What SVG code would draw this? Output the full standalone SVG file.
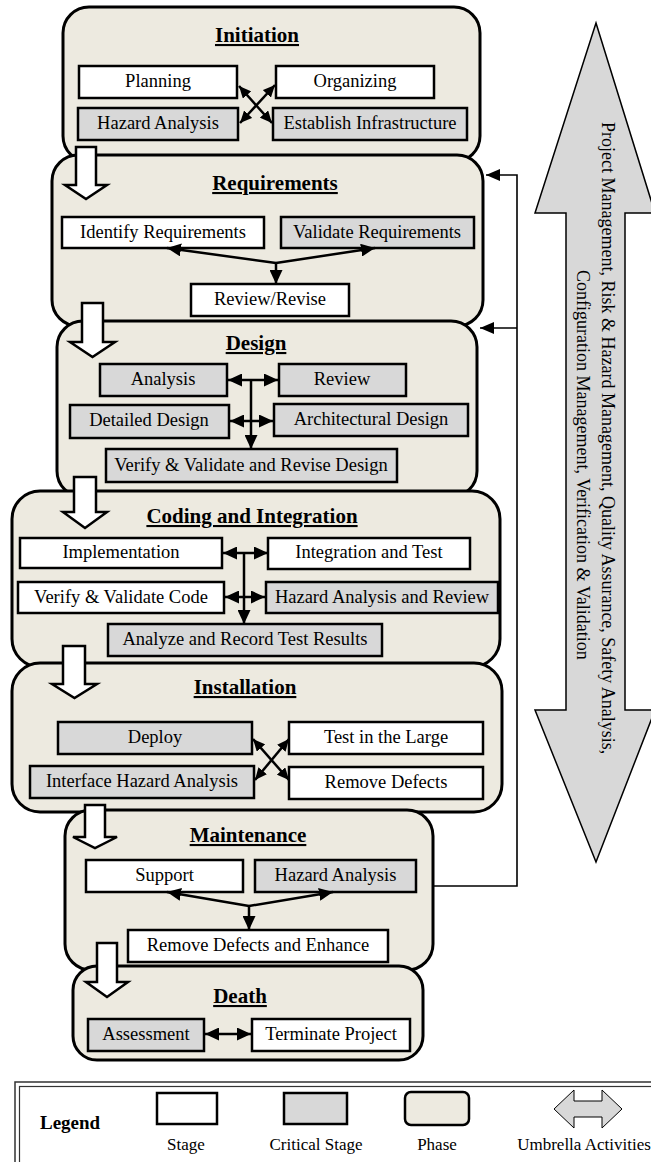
<svg xmlns="http://www.w3.org/2000/svg" width="651" height="1162" viewBox="0 0 651 1162">
<style>
.phase{fill:#EDEAE0;stroke:#000;stroke-width:3}
.stage{fill:#fff;stroke:#000;stroke-width:2.5}
.crit{fill:#D8D8D8;stroke:#000;stroke-width:2.5}
.t{font-family:"Liberation Serif","Times New Roman",serif;font-size:18.5px;text-anchor:middle;fill:#000}
.ttl{font-family:"Liberation Serif","Times New Roman",serif;font-size:21px;font-weight:bold;text-decoration:underline;text-anchor:middle;fill:#000}
.blk{fill:#fff;stroke:#000;stroke-width:2.5;stroke-linejoin:miter}
.con{fill:none;stroke:#000;stroke-width:2.5}
.fb{fill:none;stroke:#000;stroke-width:1.6}
.lg{font-family:"Liberation Serif","Times New Roman",serif;font-size:17px;text-anchor:middle;fill:#000}
.um{font-family:"Liberation Serif","Times New Roman",serif;font-size:18px;fill:#000}
</style>
<defs>
<marker id="ah" viewBox="0 0 14 13" refX="14" refY="6.5" markerWidth="14" markerHeight="13" markerUnits="userSpaceOnUse" orient="auto-start-reverse"><path d="M0,0 L14,6.5 L0,13 z" fill="#000"/></marker>
<marker id="ahs" viewBox="0 0 12 11" refX="12" refY="5.5" markerWidth="12" markerHeight="11" markerUnits="userSpaceOnUse" orient="auto-start-reverse"><path d="M0,0 L12,5.5 L0,11 z" fill="#000"/></marker>
<marker id="fh" viewBox="0 0 14 12" refX="14" refY="6" markerWidth="14" markerHeight="12" markerUnits="userSpaceOnUse" orient="auto"><path d="M0,0 L14,6 L0,12 z" fill="#000"/></marker>
</defs>
<rect width="651" height="1162" fill="#fff"/>

<!-- Umbrella activities arrow -->
<g id="umbrella">
<polygon points="596,23 655,213 625,213 625,710 655,710 596,862 535,710 566,710 566,213 535,213" fill="#D8D8D8" stroke="#000" stroke-width="1.5"/>
<text class="um" transform="translate(602,122) rotate(90)">Project Management, Risk &amp; Hazard Management, Quality Assurance, Safety Analysis,</text>
<text class="um" transform="translate(577,270) rotate(90)">Configuration Management, Verification &amp; Validation</text>
</g>

<!-- Initiation -->
<g id="phase-initiation">
<rect class="phase" x="63" y="7" width="417" height="155" rx="26"/>
<text class="ttl" x="257" y="42">Initiation</text>
</g>
<g id="planning"><rect class="stage" x="79" y="66" width="158" height="32"/><text class="t" x="158" y="87">Planning</text></g>
<g id="organizing"><rect class="stage" x="276" y="66" width="158" height="32"/><text class="t" x="355" y="87">Organizing</text></g>
<g id="hazard-analysis-1"><rect class="crit" x="78" y="108" width="160" height="32"/><text class="t" x="158" y="129">Hazard Analysis</text></g>
<g id="establish-infrastructure"><rect class="crit" x="273" y="108" width="194" height="32"/><text class="t" x="370" y="129">Establish Infrastructure</text></g>

<!-- Requirements -->
<g id="phase-requirements">
<rect class="phase" x="52" y="155" width="431" height="171" rx="26"/>
<text class="ttl" x="275" y="190">Requirements</text>
</g>
<g id="identify-requirements"><rect class="stage" x="62" y="217" width="202" height="31"/><text class="t" x="163" y="238">Identify Requirements</text></g>
<g id="validate-requirements"><rect class="crit" x="281" y="217" width="193" height="31"/><text class="t" x="377" y="238">Validate Requirements</text></g>
<g id="review-revise"><rect class="stage" x="191" y="284" width="158" height="32"/><text class="t" x="270" y="305">Review/Revise</text></g>

<!-- Design -->
<g id="phase-design">
<rect class="phase" x="57" y="321" width="420" height="176" rx="26"/>
<text class="ttl" x="256" y="350">Design</text>
</g>
<g id="analysis"><rect class="crit" x="100" y="364" width="127" height="32"/><text class="t" x="163" y="385">Analysis</text></g>
<g id="review"><rect class="crit" x="279" y="364" width="127" height="32"/><text class="t" x="342" y="385">Review</text></g>
<g id="detailed-design"><rect class="crit" x="70" y="405" width="159" height="33"/><text class="t" x="149" y="426">Detailed Design</text></g>
<g id="architectural-design"><rect class="crit" x="274" y="404" width="194" height="32"/><text class="t" x="371" y="425">Architectural Design</text></g>
<g id="verify-design"><rect class="crit" x="106" y="449" width="291" height="33"/><text class="t" x="251" y="471">Verify &amp; Validate and Revise Design</text></g>

<!-- Coding and Integration -->
<g id="phase-coding">
<rect class="phase" x="12" y="491" width="488" height="176" rx="28"/>
<text class="ttl" x="252" y="523">Coding and Integration</text>
</g>
<g id="implementation"><rect class="stage" x="20" y="538" width="202" height="30"/><text class="t" x="121" y="558">Implementation</text></g>
<g id="integration-test"><rect class="stage" x="268" y="538" width="202" height="31"/><text class="t" x="369" y="558">Integration and Test</text></g>
<g id="verify-code"><rect class="stage" x="18" y="582" width="206" height="31"/><text class="t" x="121" y="603">Verify &amp; Validate Code</text></g>
<g id="hazard-review"><rect class="crit" x="266" y="582" width="232" height="31"/><text class="t" x="382" y="603">Hazard Analysis and Review</text></g>
<g id="analyze-record"><rect class="crit" x="108" y="624" width="274" height="32"/><text class="t" x="245" y="645">Analyze and Record Test Results</text></g>

<!-- Installation -->
<g id="phase-installation">
<rect class="phase" x="12" y="663" width="490" height="149" rx="28"/>
<text class="ttl" x="245" y="694">Installation</text>
</g>
<g id="deploy"><rect class="crit" x="58" y="722" width="194" height="32"/><text class="t" x="155" y="743">Deploy</text></g>
<g id="test-large"><rect class="stage" x="289" y="722" width="194" height="32"/><text class="t" x="386" y="743">Test in the Large</text></g>
<g id="interface-hazard"><rect class="crit" x="30" y="766" width="224" height="32"/><text class="t" x="142" y="787">Interface Hazard Analysis</text></g>
<g id="remove-defects"><rect class="stage" x="289" y="767" width="194" height="32"/><text class="t" x="386" y="788">Remove Defects</text></g>

<!-- Maintenance -->
<g id="phase-maintenance">
<rect class="phase" x="65" y="810" width="368" height="160" rx="26"/>
<text class="ttl" x="248" y="842">Maintenance</text>
</g>
<g id="support"><rect class="stage" x="86" y="860" width="157" height="32"/><text class="t" x="164.5" y="881">Support</text></g>
<g id="hazard-analysis-2"><rect class="crit" x="255" y="860" width="161" height="32"/><text class="t" x="335.5" y="881">Hazard Analysis</text></g>
<g id="remove-enhance"><rect class="stage" x="128" y="930" width="260" height="32"/><text class="t" x="258" y="951">Remove Defects and Enhance</text></g>

<!-- Death -->
<g id="phase-death">
<rect class="phase" x="73" y="966" width="350" height="94" rx="24"/>
<text class="ttl" x="240" y="1003">Death</text>
</g>
<g id="assessment"><rect class="crit" x="88" y="1019" width="116" height="32"/><text class="t" x="146" y="1040">Assessment</text></g>
<g id="terminate"><rect class="stage" x="252" y="1019" width="158" height="32"/><text class="t" x="331" y="1040">Terminate Project</text></g>

<!-- Connectors -->
<g id="connectors">
<line class="con" x1="239" y1="86" x2="272" y2="123" marker-start="url(#ahs)" marker-end="url(#ahs)"/>
<line class="con" x1="275" y1="85" x2="240" y2="123" marker-start="url(#ahs)" marker-end="url(#ahs)"/>
<line class="con" x1="276" y1="263" x2="167" y2="248" marker-end="url(#ah)"/>
<line class="con" x1="276" y1="263" x2="375" y2="248" marker-end="url(#ah)"/>
<line class="con" x1="276" y1="262" x2="276" y2="284" marker-end="url(#ah)"/>
<line class="con" x1="251" y1="380" x2="251" y2="449" marker-end="url(#ah)"/>
<line class="con" x1="228" y1="380" x2="278" y2="380" marker-start="url(#ah)" marker-end="url(#ah)"/>
<line class="con" x1="230" y1="421" x2="273" y2="421" marker-start="url(#ah)" marker-end="url(#ah)"/>
<line class="con" x1="244" y1="553" x2="244" y2="624" marker-end="url(#ah)"/>
<line class="con" x1="223" y1="553" x2="268" y2="553" marker-start="url(#ah)" marker-end="url(#ah)"/>
<line class="con" x1="225" y1="597" x2="265" y2="597" marker-start="url(#ah)" marker-end="url(#ah)"/>
<line class="con" x1="253" y1="739" x2="289" y2="780" marker-start="url(#ahs)" marker-end="url(#ahs)"/>
<line class="con" x1="289" y1="739" x2="255" y2="780" marker-start="url(#ahs)" marker-end="url(#ahs)"/>
<line class="con" x1="249" y1="906" x2="167" y2="892" marker-end="url(#ah)"/>
<line class="con" x1="249" y1="906" x2="333" y2="892" marker-end="url(#ah)"/>
<line class="con" x1="249" y1="905" x2="249" y2="930" marker-end="url(#ah)"/>
<line class="con" x1="205" y1="1034" x2="251" y2="1034" marker-start="url(#ah)" marker-end="url(#ah)"/>
<path class="fb" d="M433,886 H517 V175 H486" marker-end="url(#fh)"/>
<path class="fb" d="M517,328 H480" marker-end="url(#fh)"/>
<polygon class="blk" points="76,147 96,147 96,185 107,185 86,199 65,185 76,185"/>
<polygon class="blk" points="82,303 103,303 103,342 115,342 92.5,357 70,342 82,342"/>
<polygon class="blk" points="74,477 96,477 96,512 107,512 85,528 63,512 74,512"/>
<polygon class="blk" points="63,646 85,646 85,684 97,684 74.5,698 52,684 63,684"/>
<polygon class="blk" points="85,805 105,805 105,837 117,837 95,848 73,837 85,837"/>
<polygon class="blk" points="97,943 117,943 117,982 128,982 107,997 86,982 97,982"/>
</g>

<!-- Legend -->
<g id="legend">
<rect x="15" y="1082" width="700" height="100" fill="#fff" stroke="#333" stroke-width="1.5"/>
<rect x="19.5" y="1086.5" width="700" height="100" fill="none" stroke="#333" stroke-width="1.2"/>
<text x="40" y="1129" font-family="Liberation Serif, Times New Roman, serif" font-size="19" font-weight="bold">Legend</text>
<rect class="stage" x="157" y="1093" width="60" height="31"/>
<text class="lg" x="186" y="1150">Stage</text>
<rect class="crit" x="284" y="1093" width="63" height="31"/>
<text class="lg" x="316" y="1150">Critical Stage</text>
<rect class="phase" x="405" y="1092" width="64" height="33" rx="6" style="stroke-width:2.5"/>
<text class="lg" x="437" y="1150">Phase</text>
<polygon points="554,1109 574,1090 574,1101 602,1101 602,1090 622,1109 602,1128 602,1117 574,1117 574,1128" fill="#D8D8D8" stroke="#000" stroke-width="1"/>
<text class="lg" x="584" y="1150">Umbrella Activities</text>
</g>
</svg>
